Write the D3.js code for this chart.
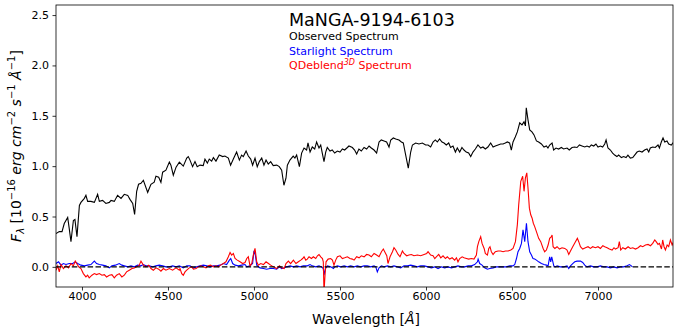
<!DOCTYPE html>
<html>
<head>
<meta charset="utf-8">
<script src="https://cdn.jsdelivr.net/npm/d3@7"></script>
<style>
  body { margin: 0; background: #fff; }
  svg text { font-family: "DejaVu Sans", sans-serif; }
</style>
</head>
<body>
<svg id="chart" width="674" height="335"></svg>
<script>
// observed spectrum (black)
var obsWave = [3849,3868,3884,3897,3917,3926,3936,3950,3959,3971,3985,3994,4014,4023,4033,4052,4072,4091,4101,4120,4139,4159,4169,4188,4207,4227,4246,4266,4279,4295,4306,4318,4329,4343,4357,4382,4401,4420,4430,4446,4459,4469,4488,4508,4517,4531,4547,4566,
  4589,4609,4618,4628,4643,4657,4670,4686,4705,4715,4729,4740,4754,4764,4779,4798,4818,4831,4851,4864,4880,4899,4915,4928,4938,4954,4967,4981,4992,5006,5019,5031,5045,5058,5070,5083,5097,5112,5132,5147,5161,5174,5186,5194,5209,5228,5238,5248,5264,5277,5291,
  5306,5314,5326,5339,5353,5364,5378,5388,5397,5407,5417,5426,5442,5455,5469,5485,5500,5514,5527,5543,5552,5572,5585,5597,5610,5624,5640,5655,5669,5682,5698,5713,5727,5740,5756,5771,5785,5795,5810,5824,5843,5857,5868,5882,5897,5911,5921,5940,5959,5979,5998,
  6012,6027,6041,6054,6066,6079,6093,6105,6118,6132,6143,6157,6171,6182,6196,6209,6221,6234,6248,6260,6273,6287,6302,6318,6331,6345,6360,6376,6390,6403,6419,6434,6448,6461,6473,6486,6496,6506,6519,6531,6545,6558,6570,6578,6583,6593,6603,6616,6628,6642,6655,6671,6686,6700,6709,6719,
  6733,6742,6756,6771,6787,6800,6820,6833,6849,6864,6878,6892,6907,6923,6936,6950,6961,6975,6988,7000,7014,7027,7039,7047,7058,7072,7085,7097,7110,7120,7136,7149,7163,7174,7188,7202,7213,7227,7240,7256,7271,7285,7295,7304,7318,7333,7349,7357,7368,7378,7388,7401,7411,7426,7440];
var obsFlux = [0.33,0.35,0.35,0.43,0.49,0.38,0.25,0.46,0.47,0.30,0.61,0.64,0.68,0.71,0.65,0.65,0.64,0.72,0.65,0.66,0.63,0.64,0.66,0.65,0.71,0.68,0.72,0.71,0.67,0.63,0.52,0.75,0.82,0.83,0.86,0.74,0.82,0.84,0.90,0.89,0.84,0.94,0.96,1.04,1.01,0.91,0.99,1.04,
  1.00,1.08,1.095,1.06,0.995,1.045,0.995,1.01,1.005,1.07,1.03,1.07,1.05,1.085,1.05,1.11,1.095,1.10,1.08,1.01,1.07,1.14,1.06,1.11,1.095,1.15,1.10,1.07,1.01,1.08,0.995,1.045,1.08,1.01,1.06,1.02,1.045,1.005,1.01,0.995,0.96,0.81,0.88,1.01,1.06,1.10,1.08,1.11,0.995,1.13,1.18,
  1.16,1.23,1.14,1.19,1.17,1.24,1.18,1.21,1.13,1.045,1.14,1.185,1.15,1.16,1.13,1.15,1.14,1.17,1.16,1.185,1.20,1.185,1.16,1.12,1.17,1.15,1.185,1.17,1.20,1.18,1.16,1.13,1.24,1.26,1.25,1.24,1.19,1.26,1.28,1.27,1.26,1.24,1.23,1.11,0.98,1.14,1.21,1.23,1.22,1.23,1.21,
  1.21,1.19,1.24,1.26,1.24,1.27,1.24,1.23,1.21,1.23,1.185,1.20,1.14,1.18,1.14,1.185,1.16,1.14,1.13,1.095,1.14,1.17,1.21,1.18,1.19,1.17,1.19,1.23,1.19,1.20,1.21,1.22,1.22,1.23,1.24,1.23,1.16,1.24,1.29,1.34,1.43,1.41,1.44,1.40,1.58,1.46,1.36,1.34,1.31,1.25,1.24,1.22,1.19,1.20,1.18,1.21,
  1.23,1.16,1.18,1.17,1.185,1.17,1.18,1.16,1.185,1.19,1.185,1.21,1.20,1.19,1.20,1.19,1.21,1.20,1.22,1.19,1.20,1.19,1.22,1.26,1.18,1.16,1.13,1.11,1.095,1.11,1.085,1.095,1.085,1.11,1.08,1.085,1.11,1.14,1.15,1.14,1.16,1.17,1.14,1.18,1.19,1.185,1.21,1.18,1.24,1.28,1.24,1.25,1.22,1.21,1.24];

// starlight spectrum (blue)
var starWave = [3849,3864,3878,3892,3907,3926,3946,3961,3975,3994,4014,4033,4052,4072,4085,4101,4120,4139,4159,4174,4194,4217,4232,4246,4266,4285,4304,4324,4343,4357,4372,4391,4411,4430,4449,4469,4488,4508,4527,4547,4566,
  4589,4609,4628,4648,4667,4686,4706,4725,4744,4764,4783,4803,4822,4841,4857,4865,4876,4890,4909,4929,4948,4958,4977,4992,5000,5008,5016,5035,5055,5074,5093,5113,5132,5148,5161,5175,5190,5210,5229,5248,5268,5287,
  5310,5326,5339,5359,5378,5392,5403,5407,5415,5427,5446,5462,5469,5485,5504,5524,5543,5562,5582,5601,5620,5640,5659,5679,5698,5708,5717,5727,5741,5756,5776,5795,5814,5834,5853,5872,5892,5911,5930,5950,5969,5989,6012,
  6031,6051,6070,6090,6109,6128,6148,6167,6186,6206,6225,6245,6264,6283,6299,6303,6312,6326,6341,6357,6371,6390,6409,6429,6448,6467,6487,6506,6516,6526,6535,6545,6555,6564,6574,6584,6593,6603,6613,6622,6632,6642,6655,6671,6686,6700,6710,6719,6725,6731,
  6743,6752,6762,6781,6801,6820,6830,6840,6853,6865,6878,6898,6911,6923,6936,6956,6975,6995,7014,7033,7053,7072,7091,7111,7130,7149,7169,7183,7194,7200];
var starFlux = [0.033,0.05,0.017,0.033,0.023,0.033,0.033,0.05,0.033,0.017,0.01,0.017,0.023,0.057,0.033,0.023,0.017,0.01,-0.01,0.01,0.017,0.033,0.017,0.01,0,0.01,0,0.017,0.01,0.023,0.01,0.01,0,0.01,0.017,0.01,0,0,0.01,0,0.01,
  -0.01,0.01,0.01,-0.01,0,0.01,0.017,0.01,0,0.01,0.01,0.017,0.033,0.023,0.067,0.083,0.033,0.017,0.01,0.017,0.023,0,0.01,0.033,0.16,0.117,0.017,-0.01,-0.017,-0.023,-0.017,-0.017,-0.023,0,-0.017,-0.01,0,0.01,0,0.01,0,0.01,
  0.01,0.023,0.01,0,0.01,0,-0.017,-0.083,-0.017,0.01,0,-0.017,0,0.01,0,0.01,0,0.01,0,0.01,0,0.01,0.01,0,0.01,0,-0.05,-0.01,0.01,0,0.01,0,0.01,0,-0.01,0.01,0.01,0.017,0.01,0,0.01,0.01,0,
  -0.01,0,-0.017,0,-0.01,0,-0.01,0,0.01,0,0,0.01,0.01,0.023,0.05,0.077,0.033,0.017,-0.01,-0.023,-0.017,-0.01,0,0,0,0,0.01,0.01,0.023,0.083,0.15,0.183,0.233,0.367,0.25,0.433,0.25,0.15,0.117,0.083,0.077,0.067,0.05,0.033,0.023,0.017,0.01,0.10,0.05,0.10,
  0.01,0,0.01,0,0,0.01,-0.017,0.01,0.033,0.05,0.057,0.057,0.043,0.017,0,0.01,0,0,0.01,0,0,-0.01,0,-0.01,0,0,0.01,0.023,0.01,0];

// QDeblend3D spectrum (red)
var qdbWave = [3849,3859,3868,3878,3892,3907,3922,3936,3950,3961,3969,3981,3994,4008,4023,4033,4042,4058,4072,4085,4101,4116,4130,4143,4159,4174,4188,4201,4217,4232,4246,4259,4275,4291,4304,4318,4333,4343,4357,4372,4388,4401,4415,4430,4446,4459,4473,4488,4508,4527,4547,4566,
  4570,4580,4589,4599,4609,4624,4638,4648,4663,4677,4690,4706,4721,4735,4748,4764,4779,4793,4806,4822,4837,4851,4861,4870,4880,4890,4903,4919,4934,4948,4958,4967,4977,4987,4996,5006,5016,5025,5039,5055,5070,5084,5097,5113,5132,5148,5161,5175,5186,5200,5213,5229,5244,5258,5272,5283,5291,
  5301,5310,5320,5334,5345,5359,5369,5378,5388,5398,5403,5407,5413,5419,5431,5446,5456,5465,5475,5485,5500,5514,5527,5543,5558,5572,5582,5597,5611,5624,5640,5655,5669,5682,5698,5713,5727,5741,5752,5760,5772,5779,5791,5805,5814,5824,5838,5849,5863,5872,5888,5901,5915,5930,5950,5969,5989,6004,6012,
  6027,6041,6051,6060,6074,6086,6099,6113,6124,6138,6152,6167,6177,6186,6196,6210,6221,6235,6248,6264,6279,6293,6299,6307,6318,6326,6338,6345,6357,6365,6372,6380,6390,6403,6419,6434,6448,6462,6477,6493,6506,6520,6531,6539,6551,6562,6570,6578,6586,6593,6601,6609,6617,6624,6632,6642,6655,6667,6681,6690,6700,6710,6719,6729,
  6733,6739,6749,6762,6776,6791,6807,6820,6830,6840,6853,6869,6880,6888,6898,6911,6927,6942,6956,6969,6985,7000,7014,7028,7039,7053,7066,7082,7093,7101,7117,7124,7132,7144,7159,7175,7188,7202,7218,7233,7247,7260,7276,7291,7305,7318,7330,7338,7349,7357,7369,7376,7384,7392,7402,7411,7421,7431,7440];
var qdbFlux = [-0.033,0.01,-0.05,0.023,-0.017,0.01,-0.01,0.033,0.01,0.057,0.033,0,-0.017,-0.067,-0.10,-0.083,-0.11,-0.083,-0.067,-0.077,-0.067,-0.083,-0.077,-0.10,-0.083,-0.077,-0.11,-0.083,-0.067,-0.10,-0.083,-0.05,-0.033,-0.017,-0.01,0,0.017,0.057,0.017,0,0.017,-0.017,-0.033,-0.01,-0.023,-0.043,-0.017,-0.033,-0.017,-0.033,-0.01,-0.033,
  -0.017,-0.067,-0.083,-0.05,-0.033,-0.01,0,-0.023,-0.017,0,0.01,0,-0.01,0.01,0.017,0,0.01,0,0.017,0.033,0.05,0.10,0.143,0.117,0.133,0.083,0.067,0.05,0.033,0.043,0.083,0.10,0.01,0.033,0.117,0.183,0.05,0.017,0.033,0.023,0.05,0.033,0.017,0,-0.017,0.01,-0.01,-0.017,0.033,0.057,0.033,0.067,0.033,0.05,0.067,0.083,0.10,
  0.067,0.077,0.10,0.083,0.10,0.083,0.11,0.123,0.10,0.083,0.05,-0.25,-0.083,0.05,0.077,0.083,0.067,0.017,0.067,0.10,0.11,0.083,0.09,0.10,0.083,0.077,0.067,0.10,0.09,0.11,0.10,0.123,0.117,0.10,0.133,0.117,0.10,0.15,0.177,0.15,0.11,0.033,0.10,0.15,0.19,0.167,0.123,0.10,0.157,0.133,0.11,0.117,0.123,0.11,0.117,0.11,0.123,0.133,0.15,
  0.117,0.11,0.083,0.10,0.123,0.09,0.11,0.083,0.10,0.077,0.09,0.067,0.09,0.05,0.083,0.10,0.09,0.083,0.077,0.083,0.077,0.117,0.20,0.25,0.30,0.233,0.183,0.133,0.117,0.183,0.20,0.15,0.123,0.15,0.157,0.157,0.15,0.157,0.157,0.167,0.183,0.25,0.417,0.617,0.85,0.90,0.75,0.883,0.933,0.783,0.583,0.517,0.483,0.433,0.40,0.35,0.283,0.25,0.183,0.15,0.167,0.217,0.283,0.30,
  0.317,0.20,0.183,0.20,0.177,0.19,0.183,0.167,0.123,0.157,0.20,0.25,0.283,0.25,0.20,0.177,0.19,0.20,0.183,0.20,0.19,0.20,0.183,0.21,0.20,0.19,0.177,0.167,0.19,0.177,0.19,0.25,0.167,0.19,0.177,0.20,0.183,0.19,0.177,0.19,0.21,0.20,0.217,0.223,0.21,0.233,0.267,0.25,0.223,0.233,0.177,0.267,0.20,0.167,0.217,0.20,0.267,0.217,0.25];

var xTicks = [4000, 4500, 5000, 5500, 6000, 6500, 7000];
var yTicks = [0.0, 0.5, 1.0, 1.5, 2.0, 2.5];

// plot box (note: "top" is a reserved window name, so use plot* names)
var plotLeft = 56, plotRight = 673, plotTop = 5, plotBottom = 287;

var svg = d3.select('#chart');

var x = d3.scaleLinear().domain([3849, 7436]).range([plotLeft, plotRight]);
var y = d3.scaleLinear().domain([-0.2, 2.6]).range([plotBottom, plotTop]);

svg.append('clipPath').attr('id', 'plotclip')
  .append('rect')
  .attr('x', plotLeft).attr('y', plotTop)
  .attr('width', plotRight - plotLeft).attr('height', plotBottom - plotTop);

var line = d3.line()
  .x(d => x(d[0]))
  .y(d => y(d[1]));

var g = svg.append('g').attr('clip-path', 'url(#plotclip)');

g.append('path')
  .datum(d3.zip(obsWave, obsFlux))
  .attr('d', line)
  .attr('fill', 'none').attr('stroke', '#000').attr('stroke-width', 1.1);

g.append('path')
  .datum(d3.zip(starWave, starFlux))
  .attr('d', line)
  .attr('fill', 'none').attr('stroke', '#0000ff').attr('stroke-width', 1.1);

g.append('path')
  .datum(d3.zip(qdbWave, qdbFlux))
  .attr('d', line)
  .attr('fill', 'none').attr('stroke', '#ff0000').attr('stroke-width', 1.1);

// zero line
g.append('line')
  .attr('x1', plotLeft).attr('x2', plotRight)
  .attr('y1', y(0)).attr('y2', y(0))
  .attr('stroke', '#000').attr('stroke-width', 1.3)
  .attr('stroke-dasharray', '5.5,2.4');

// axes
var xAxis = svg.append('g')
  .attr('transform', 'translate(0,' + plotBottom + ')')
  .call(d3.axisBottom(x).tickValues(xTicks).tickFormat(d3.format('d')).tickSize(3.5).tickPadding(1.5).tickSizeOuter(0));

var yAxis = svg.append('g')
  .attr('transform', 'translate(' + plotLeft + ',0)')
  .call(d3.axisLeft(y).tickValues(yTicks).tickFormat(d3.format('.1f')).tickSize(3.5).tickPadding(3.5).tickSizeOuter(0));

[xAxis, yAxis].forEach(a => {
  a.select('.domain').remove();
  a.selectAll('text').attr('font-size', 11).attr('fill', '#000').style('font-family', '"DejaVu Sans", sans-serif');
  a.selectAll('line').attr('stroke', '#000').attr('stroke-width', 0.8);
});

// frame
svg.append('rect')
  .attr('x', plotLeft).attr('y', plotTop)
  .attr('width', plotRight - plotLeft).attr('height', plotBottom - plotTop)
  .attr('fill', 'none').attr('stroke', '#000').attr('stroke-width', 0.8);

// x label
var xl = svg.append('text')
  .attr('x', 366).attr('y', 323.5)
  .attr('text-anchor', 'middle').attr('font-size', 14);
xl.append('tspan').text('Wavelength [');
xl.append('tspan').attr('font-style', 'italic').text('Å');
xl.append('tspan').text(']');

// y label
var yl = svg.append('text')
  .attr('transform', 'translate(21,146) rotate(-90)')
  .attr('text-anchor', 'middle').attr('font-size', 14);
yl.append('tspan').attr('font-style', 'italic').text('F');
yl.append('tspan').attr('font-style', 'italic').attr('font-size', 10).attr('dy', 3).text('λ');
yl.append('tspan').attr('dy', -3).text(' [10');
yl.append('tspan').attr('font-size', 10).attr('dy', -6).text('−16');
yl.append('tspan').attr('font-style', 'italic').attr('dy', 6).text(' erg cm');
yl.append('tspan').attr('font-size', 10).attr('dy', -6).text('−2');
yl.append('tspan').attr('font-style', 'italic').attr('dy', 6).text(' s');
yl.append('tspan').attr('font-size', 10).attr('dy', -6).text('−1');
yl.append('tspan').attr('font-style', 'italic').attr('dy', 6).text(' Å');
yl.append('tspan').attr('font-size', 10).attr('dy', -6).text('−1');
yl.append('tspan').attr('dy', 6).text(']');

// title and legend texts
svg.append('text').attr('x', 289).attr('y', 25.5)
  .attr('font-size', 17.5).attr('fill', '#000').text('MaNGA-9194-6103');
svg.append('text').attr('x', 289).attr('y', 40)
  .attr('font-size', 11).attr('fill', '#000').text('Observed Spectrum');
svg.append('text').attr('x', 289).attr('y', 54.5)
  .attr('font-size', 11).attr('fill', '#0000ff').text('Starlight Spectrum');
var qt = svg.append('text').attr('x', 289).attr('y', 69)
  .attr('font-size', 11).attr('fill', '#ff0000');
qt.append('tspan').text('QDeblend');
qt.append('tspan').attr('font-size', 8).attr('font-style', 'italic').attr('dy', -4).text('3D');
qt.append('tspan').attr('dy', 4).text(' Spectrum');
</script>
</body>
</html>
